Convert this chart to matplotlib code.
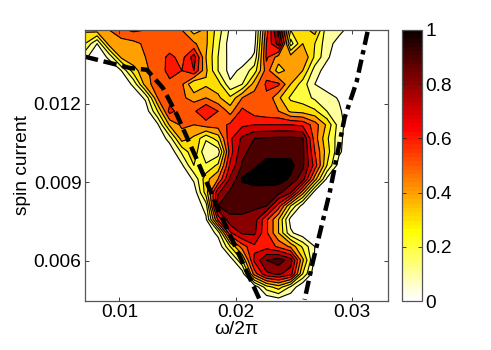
"""
Spin current vs drive frequency, filled contour map with threshold curves.
"""

import matplotlib
matplotlib.use("Agg")
import matplotlib.pyplot as plt
import numpy as np

plt.rcParams.update({
    "font.family": ["Liberation Sans", "DejaVu Sans"],
    "font.size": 13.8,
})

freq = [0.00704, 0.00808, 0.00912, 0.01016, 0.0112, 0.01224, 0.01328, 0.01432, 0.01536,
        0.0164, 0.01744, 0.01848, 0.01952, 0.02056, 0.0216, 0.02264, 0.02368, 0.02472,
        0.02576, 0.0268, 0.02784, 0.02888, 0.02992, 0.03096, 0.032, 0.03309]
spin = [0.01482, 0.0143, 0.01378, 0.01327, 0.01275, 0.01223, 0.01172, 0.0112, 0.01068,
        0.01017, 0.00965, 0.00913, 0.00862, 0.0081, 0.00758, 0.00707, 0.00655, 0.00603,
        0.00551, 0.005, 0.00447]

# one row per spin value, top of the plot first
intensity = [
    [.42, .45, .50, .58, .62, .60, .55, .52, .50, .35, .42, .25, .08, .02, .03, .55, .95, .30, .35, .45, .13, .13, .06, 0, 0, 0],
    [.30, .10, .45, .45, .47, .52, .53, .53, .52, .52, .42, .22, .05, .02, .06, .60, .85, .15, .40, .30, .14, .06, 0, 0, 0, 0],
    [.12, .03, .12, .42, .48, .50, .54, .63, .56, .75, .40, .20, .06, .03, .12, .62, .45, .45, .50, .28, .12, .02, 0, 0, 0, 0],
    [0, 0, .02, .10, .35, .48, .55, .63, .60, .70, .42, .20, .06, .13, .25, .55, .35, .45, .40, .15, .05, 0, 0, 0, 0, 0],
    [0, 0, 0, .02, .12, .45, .56, .58, .52, .30, .38, .35, .12, .20, .45, .62, .62, .40, .25, .10, .05, .02, 0, 0, 0, 0],
    [0, 0, 0, 0, .02, .12, .50, .55, .52, .46, .50, .42, .32, .50, .55, .58, .42, .28, .25, .18, .14, .09, 0, 0, 0, 0],
    [0, 0, 0, 0, 0, .03, .30, .64, .54, .58, .70, .60, .46, .63, .55, .52, .50, .38, .36, .32, .20, .12, .02, 0, 0, 0],
    [0, 0, 0, 0, 0, 0, .08, .42, .52, .50, .55, .55, .62, .68, .70, .70, .70, .70, .68, .55, .38, .15, .02, 0, 0, 0],
    [0, 0, 0, 0, 0, 0, 0, .15, .45, .38, .22, .35, .68, .82, .90, .91, .92, .92, .91, .55, .32, .14, 0, 0, 0, 0],
    [0, 0, 0, 0, 0, 0, 0, .02, .22, .38, .10, .14, .65, .88, .93, .95, .95, .95, .93, .60, .35, .12, .02, 0, 0, 0],
    [0, 0, 0, 0, 0, 0, 0, 0, .08, .30, .22, .32, .72, .91, .96, .99, .99, .99, .92, .66, .30, .05, 0, 0, 0, 0],
    [0, 0, 0, 0, 0, 0, 0, 0, 0, .12, .36, .50, .82, .98, 1.0, 1.0, 1.0, .96, .85, .45, .08, 0, 0, 0, 0, 0],
    [0, 0, 0, 0, 0, 0, 0, 0, 0, .03, .35, .78, .92, .94, .94, .94, .93, .82, .45, .05, 0, 0, 0, 0, 0, 0],
    [0, 0, 0, 0, 0, 0, 0, 0, 0, 0, .15, .90, .93, .93, .92, .90, .65, .30, .05, 0, 0, 0, 0, 0, 0, 0],
    [0, 0, 0, 0, 0, 0, 0, 0, 0, 0, .08, .62, .88, .88, .85, .62, .40, .06, 0, 0, 0, 0, 0, 0, 0, 0],
    [0, 0, 0, 0, 0, 0, 0, 0, 0, 0, 0, .14, .68, .82, .82, .62, .40, .12, .03, 0, 0, 0, 0, 0, 0, 0],
    [0, 0, 0, 0, 0, 0, 0, 0, 0, 0, 0, .01, .30, .55, .68, .66, .58, .48, .28, .10, 0, 0, 0, 0, 0, 0],
    [0, 0, 0, 0, 0, 0, 0, 0, 0, 0, 0, 0, .03, .30, .72, .90, .95, .85, .42, .08, 0, 0, 0, 0, 0, 0],
    [0, 0, 0, 0, 0, 0, 0, 0, 0, 0, 0, 0, 0, .04, .55, .78, .82, .75, .30, .02, 0, 0, 0, 0, 0, 0],
    [0, 0, 0, 0, 0, 0, 0, 0, 0, 0, 0, 0, 0, 0, .02, .25, .35, .18, 0, 0, 0, 0, 0, 0, 0, 0],
    [0, 0, 0, 0, 0, 0, 0, 0, 0, 0, 0, 0, 0, 0, 0, 0, .03, 0, 0, 0, 0, 0, 0, 0, 0, 0],
]

lower_x = [0.00704, 0.0109, 0.01236, 0.01373, 0.01494, 0.01648, 0.01863, 0.0206, 0.02206]
lower_y = [0.0138, 0.01337, 0.0133, 0.01261, 0.01158, 0.01005, 0.00784, 0.00593, 0.00452]
upper_x = [0.03133, 0.03039, 0.02936, 0.02807, 0.02661, 0.02592]
upper_y = [0.01475, 0.01284, 0.01147, 0.0086, 0.00593, 0.00452]

levels = [0.1, 0.2, 0.3, 0.4, 0.5, 0.6, 0.7, 0.8, 0.9, 0.97, 1.01]
x_ticks = [0.01, 0.02, 0.03]
y_ticks = [0.006, 0.009, 0.012]
cbar_ticks = [0, 0.2, 0.4, 0.6, 0.8, 1]
cbar_labels = ["0", "0.2", "0.4", "0.6", "0.8", "1"]

W, H = 491, 350
EDGE = "#555555"

cmap = plt.get_cmap("hot_r", 64)
fig = plt.figure(figsize=(W / 100, H / 100), dpi=100)
ax = fig.add_axes([85 / W, 49 / H, 303 / W, 271 / H])

# band takes the colour of its lower level, top band is black
band_cols = [cmap(v) for v in levels[:-2]] + ["#000000"]
z = np.array(intensity)
ax.contourf(freq, spin, z, levels=levels, colors=band_cols)
ax.contour(freq, spin, z, levels=levels[:-1], colors="black", linewidths=0.8)

ax.plot(lower_x, lower_y, color="black", lw=3.2, dashes=(3, 1.3))
ax.plot(upper_x, upper_y, color="black", lw=3.2, dashes=(3, 1.2, 1, 1.2))

ax.set_xlim(0.00704, 0.03309)
ax.set_ylim(0.00447, 0.01482)
ax.set_xticks(x_ticks)
ax.set_xticklabels(["0.01", "0.02", "0.03"])
ax.set_yticks(y_ticks)
ax.set_yticklabels(["0.006", "0.009", "0.012"])
ax.tick_params(direction="in", length=3, width=0.6, top=True, right=True,
               color="#222222", pad=2.5)
for s in ax.spines.values():
    s.set_color(EDGE)
    s.set_linewidth(0.9)
ax.set_xlabel("ω/2π", labelpad=0)
ax.set_ylabel("spin current", labelpad=2)

# colorbar
cax = fig.add_axes([402 / W, 49 / H, 20 / W, 271 / H])
sm = plt.cm.ScalarMappable(norm=plt.Normalize(0, 1), cmap=cmap)
cb = fig.colorbar(sm, cax=cax, ticks=cbar_ticks)
cb.ax.set_yticklabels(cbar_labels)
cb.ax.tick_params(direction="in", length=3, width=0.6, left=True, right=True,
                  color="#222222", pad=2.5)
cb.outline.set_edgecolor(EDGE)
cb.outline.set_linewidth(0.9)

fig.savefig("out.png", dpi=100)
plt.close(fig)
